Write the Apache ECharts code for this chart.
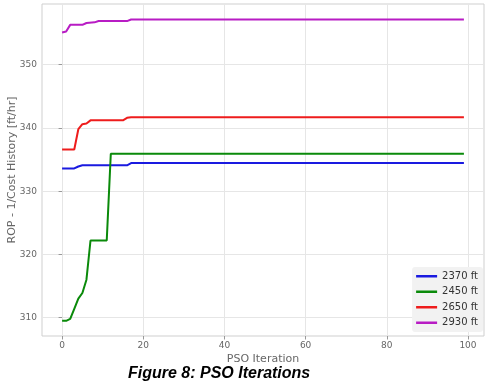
<!DOCTYPE html>
<html lang="en">
<head>
  <meta charset="UTF-8">
  <title>PSO Iterations</title>
  <script src="https://cdn.jsdelivr.net/npm/echarts@6/dist/echarts.min.js"></script>
  <style>
    html, body { margin: 0; padding: 0; background: #fff; }
    #chart { width: 486px; height: 384px; }
  </style>
</head>
<body>
<div id="chart"></div>
<script>
  // data: [iteration, ROP]
  var names = ['2370 ft', '2450 ft', '2650 ft', '2930 ft'];
  var colors = ['#1a1ae0', '#0a8a0a', '#ee1c1c', '#b81cc4'];
  var ft2370 = [[0, 333.6], [3, 333.6], [4, 333.9], [5, 334.1], [16, 334.1], [17, 334.45], [99, 334.45]];
  var ft2450 = [[0, 309.5], [1, 309.5], [2, 309.8], [3, 311.4], [4, 313.0], [5, 313.9], [6, 316.0], [7, 322.2],
                [11, 322.2], [12, 335.9], [99, 335.9]];
  var ft2650 = [[0, 336.6], [3, 336.6], [4, 339.8], [5, 340.6], [6, 340.7], [7, 341.2], [15, 341.2],
                [16, 341.6], [17, 341.7], [99, 341.7]];
  var ft2930 = [[0, 355.1], [1, 355.25], [2, 356.3], [5, 356.3], [6, 356.6], [8, 356.7], [9, 356.9],
                [16, 356.9], [17, 357.15], [99, 357.15]];
  var xTicks = [0, 20, 40, 60, 80, 100];
  var yTicks = [310, 320, 330, 340, 350];

  var allData = [ft2370, ft2450, ft2650, ft2930];
  var gray = '#666';
  var font = 'DejaVu Sans';

  var myChart = echarts.init(document.getElementById('chart'));
  var option = {
    animation: false,
    backgroundColor: '#fff',
    title: {
      text: 'Figure 8: PSO Iterations',
      left: 128,
      top: 366,
      padding: 0,
      textStyle: {
        fontFamily: 'Liberation Sans',
        fontStyle: 'italic',
        fontWeight: 'bold',
        fontSize: 16,
        color: '#000'
      }
    },
    grid: {
      left: 42, right: 2, top: 4, bottom: 48,
      outerBoundsMode: 'none',
      containLabel: false,
      show: true,
      borderColor: '#cfcfcf',
      borderWidth: 1,
      backgroundColor: '#fff'
    },
    legend: {
      data: names,
      orient: 'vertical',
      right: 3,
      bottom: 52,
      icon: 'rect',
      itemWidth: 21,
      itemHeight: 2.5,
      itemGap: 5,
      padding: [4, 5, 4, 4],
      backgroundColor: '#f2f2f2',
      borderRadius: 3,
      textStyle: { fontFamily: font, fontSize: 10, color: '#333', lineHeight: 10.5 }
    },
    xAxis: {
      type: 'value',
      min: -4.95,
      max: 103.95,
      name: 'PSO Iteration',
      nameLocation: 'middle',
      nameGap: 18,
      nameMoveOverlap: false,
      nameTextStyle: { fontFamily: font, fontSize: 11, color: gray },
      axisLine: { show: false },
      axisTick: { show: true, customValues: xTicks, length: 3.5, lineStyle: { color: '#999' } },
      axisLabel: { customValues: xTicks, margin: 5, fontFamily: font, fontSize: 9, color: gray },
      splitLine: { show: true, lineStyle: { color: '#e6e6e6', width: 1 } }
    },
    yAxis: {
      type: 'value',
      min: 307.1,
      max: 359.6,
      name: 'ROP - 1/Cost History [ft/hr]',
      nameLocation: 'middle',
      nameGap: 24,
      nameMoveOverlap: false,
      nameTextStyle: { fontFamily: font, fontSize: 11, color: gray },
      axisLine: { show: false },
      axisTick: { show: true, customValues: yTicks, length: 3.5, lineStyle: { color: '#999' } },
      axisLabel: { customValues: yTicks, margin: 5, fontFamily: font, fontSize: 9, color: gray },
      splitLine: { show: true, lineStyle: { color: '#e6e6e6', width: 1 } }
    },
    series: names.map(function (n, i) {
      return {
        name: n,
        type: 'line',
        data: allData[i],
        symbol: 'none',
        color: colors[i],
        lineStyle: { width: 2, color: colors[i] }
      };
    })
  };

  myChart.setOption(option);
</script>
</body>
</html>
